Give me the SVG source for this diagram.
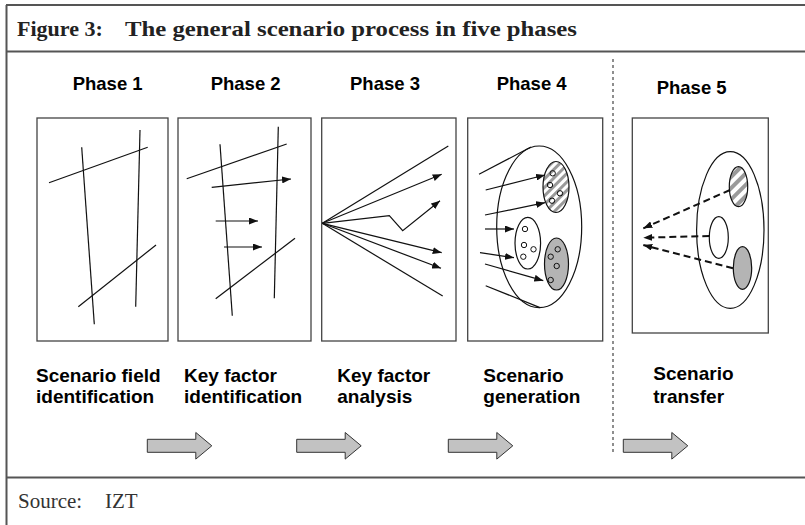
<svg xmlns="http://www.w3.org/2000/svg" width="805" height="525" viewBox="0 0 805 525">
<style>
.frame{stroke:#555;stroke-width:2;fill:none}
.box{fill:#fff;stroke:#444;stroke-width:1.3}
.ln{stroke:#111;stroke-width:1.2;fill:none}
.ar{stroke:#111;stroke-width:1.2;fill:none;marker-end:url(#ah)}
.da{stroke:#111;stroke-width:2;fill:none;stroke-dasharray:7 4;marker-end:url(#ah2)}
.el{fill:#fff;stroke:#111;stroke-width:1.2}
.gr{fill:#b4b4b4;stroke:#111;stroke-width:1.2}
.ht{fill:url(#hatch);stroke:#111;stroke-width:1.2}
.ht2{fill:url(#hatch2);stroke:#111;stroke-width:1.2}
.sc{fill:none;stroke:#111;stroke-width:1}
.ph{font-family:"Liberation Sans",Arial,sans-serif;font-weight:bold;font-size:18.5px;fill:#000}
.lb{font-family:"Liberation Sans",Arial,sans-serif;font-weight:bold;font-size:19px;fill:#000}
.ttl{font-family:"Liberation Serif","Times New Roman",serif;font-weight:bold;font-size:22px;fill:#222}
.src{font-family:"Liberation Serif","Times New Roman",serif;font-size:21px;fill:#333}
.big{fill:#c2c2c2;stroke:#333;stroke-width:1}
.sep{stroke:#444;stroke-width:1.2;stroke-dasharray:3 3;fill:none}
</style>
<defs>
<marker id="ah" markerUnits="userSpaceOnUse" markerWidth="9" markerHeight="7" refX="9" refY="3.5" orient="auto"><path d="M0,0 L9,3.5 L0,7 z" fill="#111"/></marker>
<marker id="ah2" markerUnits="userSpaceOnUse" markerWidth="9" markerHeight="7" refX="9" refY="3.5" orient="auto"><path d="M0,0 L9,3.5 L0,7 z" fill="#111"/></marker>
<pattern id="hatch" patternUnits="userSpaceOnUse" width="6" height="6" patternTransform="rotate(45)"><rect width="6" height="6" fill="#fff"/><rect width="3" height="6" fill="#9a9a9a"/></pattern>
<pattern id="hatch2" patternUnits="userSpaceOnUse" width="8" height="8" patternTransform="rotate(45)"><rect width="8" height="8" fill="#fff"/><rect width="4" height="8" fill="#9a9a9a"/></pattern>
<path id="garrow" d="M0,-6.5 H48.5 V-13.3 L64.5,0 L48.5,13.3 V6.5 H0 Z"/>
</defs>

<g id="frame">
<line class="frame" x1="6.5" y1="5" x2="6.5" y2="525"/>
<line class="frame" x1="6" y1="5" x2="805" y2="5"/>
<line class="frame" x1="6" y1="51.5" x2="805" y2="51.5"/>
<line class="frame" x1="6" y1="477.5" x2="805" y2="477.5"/>
<line class="sep" x1="613" y1="59" x2="613" y2="453"/>
</g>

<g id="title">
<text class="ttl" y="36"><tspan x="17">Figure 3:</tspan><tspan x="125" textLength="452" lengthAdjust="spacingAndGlyphs">The general scenario process in five phases</tspan></text>
</g>

<g id="phase1">
<text class="ph" x="72.7" y="89.5">Phase 1</text>
<rect class="box" x="37" y="118" width="131" height="223"/>
<line class="ln" x1="81.7" y1="147.3" x2="94.3" y2="324.3"/>
<line class="ln" x1="140" y1="130" x2="135.7" y2="306.7"/>
<line class="ln" x1="49" y1="182.7" x2="147.7" y2="147.3"/>
<line class="ln" x1="78.3" y1="306.7" x2="156" y2="245"/>
<text class="lb" x="36" y="381.7">Scenario field</text>
<text class="lb" x="36" y="402.7">identification</text>
</g>

<g id="phase2">
<text class="ph" x="210.7" y="89.5">Phase 2</text>
<rect class="box" x="178" y="118" width="133" height="223"/>
<line class="ln" x1="220" y1="144.3" x2="232.3" y2="315.7"/>
<line class="ln" x1="278.3" y1="126.7" x2="274.3" y2="298.3"/>
<line class="ln" x1="186.7" y1="178.7" x2="286.7" y2="144"/>
<line class="ar" x1="211.7" y1="187.3" x2="291" y2="179"/>
<line class="ar" x1="215.7" y1="221" x2="258" y2="221"/>
<line class="ar" x1="224" y1="247" x2="262" y2="247"/>
<line class="ln" x1="215.7" y1="298.7" x2="295" y2="238.3"/>
<text class="lb" x="184" y="381.7">Key factor</text>
<text class="lb" x="184" y="402.7">identification</text>
</g>

<g id="phase3">
<text class="ph" x="350" y="89.5">Phase 3</text>
<rect class="box" x="321.7" y="118" width="134.3" height="223"/>
<line class="ln" x1="322.3" y1="223.3" x2="448.3" y2="146"/>
<line class="ar" x1="322.3" y1="223.3" x2="441.7" y2="174.3"/>
<polyline class="ar" points="322.3,223.3 389.3,215.7 402.7,230.7 440,200.7"/>
<line class="ar" x1="322.3" y1="223.3" x2="441.7" y2="252.7"/>
<line class="ar" x1="322.3" y1="223.3" x2="441" y2="268.3"/>
<line class="ln" x1="322.3" y1="223.3" x2="442.7" y2="296"/>
<text class="lb" x="337.3" y="381.7">Key factor</text>
<text class="lb" x="337.3" y="402.7">analysis</text>
</g>

<g id="phase4">
<text class="ph" x="496.7" y="90">Phase 4</text>
<rect class="box" x="467.7" y="118" width="135" height="223"/>
<ellipse class="el" cx="539.2" cy="226.8" rx="42.5" ry="80.8"/>
<line class="ln" x1="479" y1="174.3" x2="531" y2="147"/>
<line class="ln" x1="485.7" y1="285.7" x2="540" y2="307.6"/>
<ellipse class="ht" cx="556" cy="187" rx="13" ry="25.5"/>
<ellipse class="el" cx="527.8" cy="243.2" rx="12.8" ry="25.8"/>
<ellipse class="gr" cx="556.5" cy="264" rx="12" ry="26"/>
<g fill="#fff">
<circle class="sc" cx="552.7" cy="173.3" r="2.7"/>
<circle class="sc" cx="550" cy="185" r="2.7"/>
<circle class="sc" cx="560" cy="193.3" r="2.7"/>
<circle class="sc" cx="552" cy="200.7" r="2.7"/>
<circle class="sc" cx="525" cy="229" r="2.7"/>
<circle class="sc" cx="524" cy="245" r="2.7"/>
<circle class="sc" cx="533.5" cy="249.3" r="2.7"/>
<circle class="sc" cx="523.3" cy="256.7" r="2.7"/>
<circle class="sc" cx="550.7" cy="256.7" r="2.7"/>
<circle class="sc" cx="557.7" cy="249.3" r="2.7"/>
<circle class="sc" cx="556.7" cy="266" r="2.7"/>
<circle class="sc" cx="550.7" cy="280" r="2.7"/>
</g>
<line class="ar" x1="485.7" y1="190" x2="545" y2="175"/>
<line class="ar" x1="485" y1="215" x2="545" y2="202.7"/>
<line class="ar" x1="485" y1="229" x2="514" y2="229"/>
<line class="ar" x1="480" y1="252.7" x2="514" y2="257.7"/>
<line class="ar" x1="485" y1="264" x2="543.3" y2="280.7"/>
<text class="lb" x="483.3" y="381.7">Scenario</text>
<text class="lb" x="483.3" y="402.7">generation</text>
</g>

<g id="phase5">
<text class="ph" x="656.7" y="94">Phase 5</text>
<rect class="box" x="632.3" y="118" width="136" height="215"/>
<ellipse class="el" cx="730.3" cy="230" rx="33.7" ry="78.3"/>
<ellipse class="ht2" cx="738.5" cy="186.7" rx="9.2" ry="20"/>
<ellipse class="el" cx="718.8" cy="237.5" rx="9.5" ry="20.8"/>
<ellipse class="gr" cx="742.5" cy="268" rx="9.2" ry="21.3"/>
<line class="da" x1="730" y1="190" x2="643.3" y2="228.3"/>
<line class="da" x1="709.3" y1="236" x2="643.3" y2="237.7"/>
<line class="da" x1="733" y1="268.3" x2="643.3" y2="245"/>
<text class="lb" x="653.3" y="380">Scenario</text>
<text class="lb" x="653.3" y="402.7">transfer</text>
</g>

<g id="flow">
<use href="#garrow" class="big" x="147.3" y="445.8"/>
<use href="#garrow" class="big" x="296.7" y="445.8"/>
<use href="#garrow" class="big" x="448.3" y="445.8"/>
<use href="#garrow" class="big" x="623.3" y="445.8"/>
</g>

<g id="source">
<text class="src" y="508.3"><tspan x="18">Source:</tspan><tspan x="105">IZT</tspan></text>
</g>
</svg>
